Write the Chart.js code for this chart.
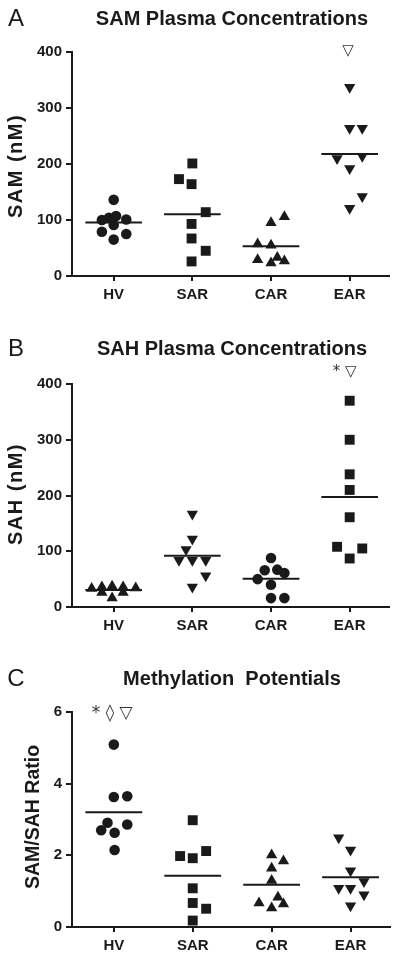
<!DOCTYPE html>
<html>
<head>
<meta charset="utf-8">
<script src="https://cdn.jsdelivr.net/npm/chart.js@4.4.0/dist/chart.umd.min.js"></script>
<style>
  body { margin: 0; background: #fff; width: 400px; height: 960px; overflow: hidden; }
  canvas { display: block; }
</style>
</head>
<body>
<canvas id="panelA" width="400" height="320"></canvas>
<canvas id="panelB" width="400" height="320"></canvas>
<canvas id="panelC" width="400" height="320"></canvas>
<script>
// groups on the x axis
const groups = ['HV', 'SAR', 'CAR', 'EAR'];

// A: SAM plasma concentrations (nM), with horizontal jitter (category units)
const samHV  = [136, 104, 107, 100, 101, 91, 79, 75, 65];
const samHVj = [0, -0.06, 0.03, -0.15, 0.16, 0, -0.15, 0.16, 0];
const samSAR  = [201, 173, 164, 114, 93, 67, 45, 26];
const samSARj = [0, -0.17, -0.01, 0.17, -0.01, -0.01, 0.17, -0.01];
const samCAR  = [106, 95, 57, 55, 29, 33, 27, 23];
const samCARj = [0.17, 0, -0.17, 0, -0.17, 0.08, 0.17, 0];
const samEAR  = [337, 264, 264, 210, 214, 192, 142, 121];
const samEARj = [0, 0, 0.16, -0.16, 0.16, 0, 0.16, 0];

// B: SAH plasma concentrations (nM)
const sahHV  = [33, 36, 37, 36, 34, 26, 26, 16];
const sahHVj = [-0.28, -0.15, -0.02, 0.12, 0.28, -0.15, 0.12, -0.02];
const sahSAR  = [167, 122, 103, 84, 84, 84, 56, 36];
const sahSARj = [0, 0, -0.08, -0.17, 0, 0.17, 0.17, 0];
const sahCAR  = [88, 66, 67, 61, 50, 40, 16, 16];
const sahCARj = [0, -0.08, 0.08, 0.17, -0.17, 0, 0, 0.17];
const sahEAR  = [370, 300, 238, 210, 161, 108, 105, 87];
const sahEARj = [0, 0, 0, 0, 0, -0.16, 0.16, 0];

// C: SAM/SAH ratio
const ratHV  = [5.09, 3.63, 3.65, 2.91, 2.86, 2.70, 2.63, 2.15];
const ratHVj = [0, 0, 0.17, -0.08, 0.17, -0.16, 0.01, 0.01];
const ratSAR  = [2.98, 1.98, 1.92, 2.12, 1.08, 0.67, 0.51, 0.18];
const ratSARj = [0, -0.16, 0, 0.17, 0, 0, 0.17, 0];
const ratCAR  = [2.01, 1.84, 1.64, 1.30, 0.67, 0.83, 0.64, 0.53];
const ratCARj = [0, 0.15, 0, 0, -0.16, 0.08, 0.15, 0];
const ratEAR  = [2.49, 2.15, 1.57, 1.27, 1.08, 1.08, 0.90, 0.59];
const ratEARj = [-0.15, 0, 0, 0.17, -0.15, 0, 0.17, 0];

const ink = '#1a1a1a';
const boldFont = size => ({ family: '"Liberation Sans", Arial, sans-serif', size: size, weight: 'bold' });

const markers = {
  circle: { pointStyle: 'circle', radius: 5.3, rotation: 0 },
  square: { pointStyle: 'rect', radius: 7, rotation: 0 },
  up:     { pointStyle: 'triangle', radius: 6.5, rotation: 0 },
  down:   { pointStyle: 'triangle', radius: 6.5, rotation: 180 }
};

// text decorations: panel letter, title, y-axis title, significance marks
const decorations = {
  id: 'decorations',
  afterDraw(chart, args, o) {
    const ctx = chart.ctx;
    ctx.save();
    ctx.fillStyle = ink;
    ctx.textBaseline = 'middle';
    ctx.textAlign = 'center';
    ctx.font = '24px "Liberation Sans", Arial, sans-serif';
    ctx.fillText(o.letter, 16, o.titleY);
    ctx.font = 'bold 20px "Liberation Sans", Arial, sans-serif';
    ctx.fillText(o.title, 232, o.titleY);

    ctx.save();
    ctx.translate(o.yTitleX, o.yTitleY);
    ctx.rotate(-Math.PI / 2);
    ctx.font = 'bold ' + o.yTitleSize + 'px "Liberation Sans", Arial, sans-serif';
    ctx.letterSpacing = o.yTitleSpacing + 'px';
    ctx.fillText(o.yTitle, 0, 0);
    ctx.restore();

    const xs = chart.scales.x, ys = chart.scales.y;
    ctx.fillStyle = '#333';
    o.marks.forEach(m => {
      ctx.font = m.size + 'px "DejaVu Sans", sans-serif';
      ctx.fillText(m.t, xs.getPixelForValue(m.x), ys.getPixelForValue(m.y));
    });
    ctx.restore();
  }
};

function mean(a) { return a.reduce((s, v) => s + v, 0) / a.length; }

function makePanel(id, cfg) {
  const datasets = [];
  cfg.series.forEach((s, g) => {
    const mk = markers[s.marker];
    datasets.push({
      type: 'scatter',
      data: s.values.map((v, i) => ({ x: g + 1 + s.jitter[i], y: v })),
      pointStyle: mk.pointStyle,
      pointRadius: mk.radius,
      rotation: mk.rotation,
      backgroundColor: ink,
      borderColor: ink,
      borderWidth: 0
    });
    const m = mean(s.values);
    datasets.push({
      type: 'line',
      data: [{ x: g + 1 - 0.36, y: m }, { x: g + 1 + 0.36, y: m }],
      borderColor: ink,
      borderWidth: 2,
      pointRadius: 0
    });
  });

  new Chart(document.getElementById(id), {
    type: 'scatter',
    data: { datasets },
    options: {
      responsive: false,
      animation: false,
      devicePixelRatio: 1,
      layout: { padding: { top: cfg.top, right: 400 - cfg.right, left: 0, bottom: 0 } },
      plugins: {
        legend: { display: false },
        tooltip: { enabled: false },
        decorations: cfg.deco
      },
      scales: {
        x: {
          type: 'linear',
          min: 0.47,
          max: 4.5,
          afterBuildTicks: s => { s.ticks = [1, 2, 3, 4].map(v => ({ value: v })); },
          afterFit: s => { s.height = 320 - cfg.bottom; },
          ticks: { callback: v => groups[v - 1], font: boldFont(15), color: ink, padding: 5, maxRotation: 0 },
          grid: { drawOnChartArea: false, drawTicks: true, tickLength: 5, color: ink, lineWidth: 2 },
          border: { display: true, color: ink, width: 2 }
        },
        y: {
          min: 0,
          max: cfg.yMax,
          afterFit: s => { s.width = 72; },
          ticks: { stepSize: cfg.yStep, font: boldFont(15), color: ink, padding: 4 },
          grid: { drawOnChartArea: false, drawTicks: true, tickLength: 6, color: ink, lineWidth: 2 },
          border: { display: true, color: ink, width: 2 }
        }
      }
    },
    plugins: [decorations]
  });
}

makePanel('panelA', {
  top: 52, bottom: 276, right: 389, yMax: 400, yStep: 100,
  series: [
    { values: samHV, jitter: samHVj, marker: 'circle' },
    { values: samSAR, jitter: samSARj, marker: 'square' },
    { values: samCAR, jitter: samCARj, marker: 'up' },
    { values: samEAR, jitter: samEARj, marker: 'down' }
  ],
  deco: {
    letter: 'A', title: 'SAM Plasma Concentrations', titleY: 19,
    yTitle: 'SAM (nM)', yTitleX: 16, yTitleY: 166, yTitleSize: 20, yTitleSpacing: 1.5,
    marks: [{ x: 3.98, y: 402, t: '\u25BD', size: 15 }]
  }
});

makePanel('panelB', {
  top: 64, bottom: 287, right: 389, yMax: 400, yStep: 100,
  series: [
    { values: sahHV, jitter: sahHVj, marker: 'up' },
    { values: sahSAR, jitter: sahSARj, marker: 'down' },
    { values: sahCAR, jitter: sahCARj, marker: 'circle' },
    { values: sahEAR, jitter: sahEARj, marker: 'square' }
  ],
  deco: {
    letter: 'B', title: 'SAH Plasma Concentrations', titleY: 29,
    yTitle: 'SAH (nM)', yTitleX: 16, yTitleY: 174, yTitleSize: 20, yTitleSpacing: 1.5,
    marks: [{ x: 3.935, y: 422, t: '* \u25BD', size: 15 }]
  }
});

makePanel('panelC', {
  top: 72, bottom: 287, right: 390, yMax: 6, yStep: 2,
  series: [
    { values: ratHV, jitter: ratHVj, marker: 'circle' },
    { values: ratSAR, jitter: ratSARj, marker: 'square' },
    { values: ratCAR, jitter: ratCARj, marker: 'up' },
    { values: ratEAR, jitter: ratEARj, marker: 'down' }
  ],
  deco: {
    letter: 'C', title: 'Methylation  Potentials', titleY: 39,
    yTitle: 'SAM/SAH Ratio', yTitleX: 34, yTitleY: 177, yTitleSize: 19.5, yTitleSpacing: 0,
    marks: [{ x: 0.98, y: 5.96, t: '* \u25CA \u25BD', size: 17 }]
  }
});
</script>
</body>
</html>
